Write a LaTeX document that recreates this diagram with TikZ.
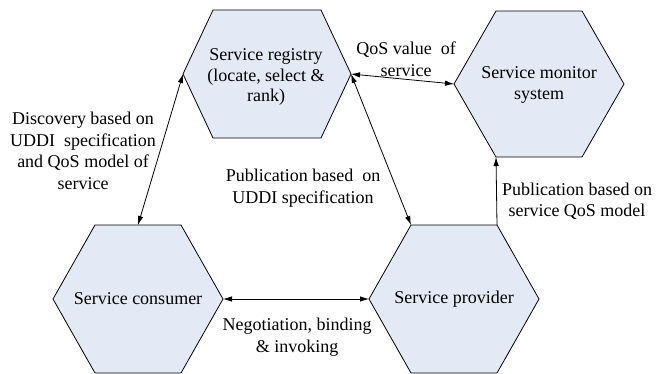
\documentclass[tikz,border=0pt]{standalone}
\usepackage{fontspec}
\setmainfont{Liberation Serif}
\usetikzlibrary{arrows.meta}

\definecolor{hexblue}{RGB}{228,234,245}

% hexagon cell: name, centre, half width, half top edge, half height
\newcommand{\hexcell}[5]{%
	\path (#2) ++(-#3,0) coordinate (#1-w);
	\path (#2) ++(#3,0) coordinate (#1-e);
	\path (#2) ++(-#4,-#5) coordinate (#1-nw);
	\path (#2) ++(#4,-#5) coordinate (#1-ne);
	\path (#2) ++(-#4,#5) coordinate (#1-sw);
	\path (#2) ++(#4,#5) coordinate (#1-se);
	\path (#2) ++(0,-#5) coordinate (#1-n);
	\draw [hexbox] (#1-w) -- (#1-nw) -- (#1-ne) -- (#1-e) -- (#1-se) -- (#1-sw) -- cycle;
}

\tikzset{
	hexbox/.style={draw=black, line width=0.8pt, fill=hexblue},
	txt/.style={align=center, inner sep=0pt, font=\fontsize{18}{21.5}\selectfont},
	link/.style={line width=0.8pt, {Latex[length=9pt,width=5.5pt]}-{Latex[length=9pt,width=5.5pt]}},
	uplink/.style={line width=0.8pt, -{Latex[length=9pt,width=5.5pt]}}
}

\begin{document}
\begin{tikzpicture}[x=1pt, y=-1pt]
		\useasboundingbox (0,0) rectangle (666,373);

		\hexcell{reg}{267,74}{84}{54}{64}
		\hexcell{mon}{539,84}{85}{43}{73}
		\hexcell{con}{138,299}{85}{43}{74}
		\hexcell{pro}{454,299}{85}{43}{74}

		\draw (266,77) node [txt, font=\fontsize{18}{20.5}\selectfont] (regtext) {Service registry\\(locate, select \&\\rank)};
		\draw (539,85) node [txt] (montext) {Service monitor\\system};
		\draw (138,299) node [txt] (context) {Service consumer};
		\draw (454,299) node [txt] (protext) {Service provider};

		\draw (83,151) node [txt] (disc) {Discovery based on\\UDDI\ \ specification\\and QoS model of\\service};
		\draw (406,59) node [txt] (qosval) {QoS value\ \ of\\service};
		\draw (303,188) node [txt] (pubuddi) {Publication based\ \ on\\UDDI specification};
		\draw (577,201) node [txt] (pubqos) {Publication based on\\service QoS model};
		\draw (297,337) node [txt] (nego) {Negotiation, binding\\\& invoking};

		\draw
			(reg-w) edge [link] (con-n)
			(reg-e) edge [link] (mon-w)
			(reg-e) edge [link] (pro-nw)
			(pro-ne) edge [uplink] (mon-sw)
			(con-e) edge [link] (pro-w)
		;
	\end{tikzpicture}
\end{document}
